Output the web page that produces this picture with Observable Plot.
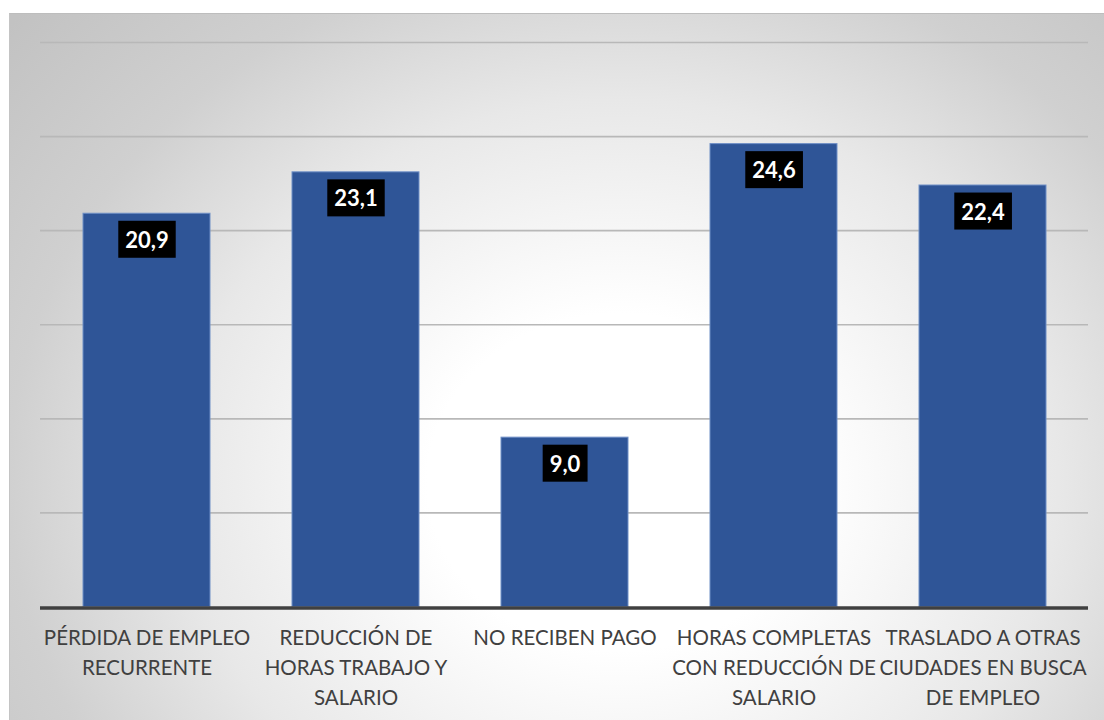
<!DOCTYPE html>
<html>
<head>
<meta charset="utf-8">
<script src="https://cdn.jsdelivr.net/npm/d3@7"></script>
<script src="https://cdn.jsdelivr.net/npm/@observablehq/plot@0.6"></script>
<style>
  html, body { margin: 0; padding: 0; background: #ffffff; }
  #wrap { position: relative; width: 1104px; height: 720px; overflow: hidden; }
  #bg {
    position: absolute; left: 9px; top: 13px; width: 1110px; height: 720px;
    border-top: 1px solid #bdbdbd; border-left: 1px solid #c4c4c4;
    background: radial-gradient(ellipse 58% 78% at 55% 65%, #ffffff 0%, #ffffff 30%, #e8e8e8 68%, #d0d0d0 95%, #c2c2c2 125%);
  }
  #chart { position: absolute; left: 0; top: 0; }
  #chart svg { background: transparent !important; }
</style>
</head>
<body>
<div id="wrap"><div id="bg"></div><div id="chart"></div></div>
<script>
const categories = [
  "PÉRDIDA DE EMPLEO\nRECURRENTE",
  "REDUCCIÓN DE\nHORAS TRABAJO Y\nSALARIO",
  "NO RECIBEN PAGO",
  "HORAS COMPLETAS\nCON REDUCCIÓN DE\nSALARIO",
  "TRASLADO A OTRAS\nCIUDADES EN BUSCA\nDE EMPLEO"
];
const values = [20.9, 23.1, 9.0, 24.6, 22.4];
const gridTicks = [5, 10, 15, 20, 25, 30];

const data = categories.map((c, i) => ({cat: c, value: values[i]}));
const fmt = v => v.toFixed(1).replace(".", ",");

const plot = Plot.plot({
  width: 1104,
  height: 720,
  marginLeft: 40,
  marginRight: 16,
  marginTop: 42,
  marginBottom: 113.5,
  style: {background: "transparent", fontFamily: "Lato, 'Open Sans', sans-serif"},
  x: {domain: categories, paddingInner: 0.394, paddingOuter: 0.197, axis: null},
  y: {domain: [0, 30], axis: null},
  marks: [
    Plot.ruleY(gridTicks, {stroke: "#b8b8b8", strokeWidth: 1.6}),
    Plot.barY(data, {x: "cat", y: "value", fill: "#2F5597", stroke: "#6f8fc6", strokeWidth: 1}),
    Plot.ruleY([0], {stroke: "#404040", strokeWidth: 3.5, dy: 1}),
    Plot.text(data, {
      x: "cat", y: "value", text: d => fmt(d.value), dy: 27,
      fill: "white", fontSize: 22, fontWeight: "bold",
      fontFamily: "Lato, 'Open Sans', sans-serif"
    }),
    Plot.text(categories, {
      x: d => d, frameAnchor: "bottom", lineAnchor: "top", dy: 17,
      text: d => d, fontSize: 20.5, lineHeight: 1.45, fill: "#404040",
      fontFamily: "Lato, 'Open Sans', sans-serif"
    })
  ]
});
document.getElementById("chart").appendChild(plot);

// black boxes behind value labels
const groups = plot.querySelectorAll('g[aria-label="text"]');
if (groups.length) {
  const g = groups[0];
  g.querySelectorAll("text").forEach(t => {
    const b = t.getBBox();
    const h = 37;
    const cy = b.y + b.height / 2;
    const r = document.createElementNS("http://www.w3.org/2000/svg", "rect");
    r.setAttribute("x", b.x - 7);
    r.setAttribute("y", cy - h / 2);
    r.setAttribute("width", b.width + 14);
    r.setAttribute("height", h);
    r.setAttribute("fill", "black");
    const tr = t.getAttribute("transform");
    if (tr) r.setAttribute("transform", tr);
    g.insertBefore(r, t);
  });
}
</script>
</body>
</html>
